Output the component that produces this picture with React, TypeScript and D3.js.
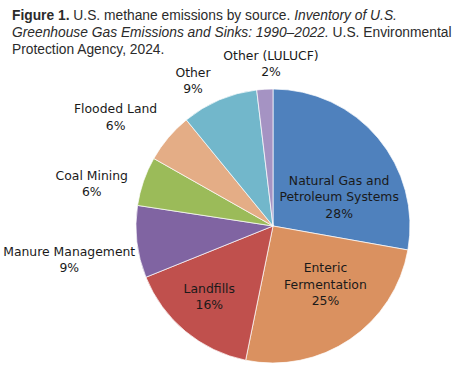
import React from 'react';
import * as d3 from 'd3';

// Methane emission shares by source (percent), clockwise from 12 o'clock
const sources = [
  'Natural Gas and Petroleum Systems',
  'Enteric Fermentation',
  'Landfills',
  'Manure Management',
  'Coal Mining',
  'Flooded Land',
  'Other',
  'Other (LULUCF)',
];
const shares = [27.8, 25.4, 15.7, 8.5, 5.8, 5.9, 9.0, 1.9];
const labelLines = [
  ['Natural Gas and', 'Petroleum Systems'],
  ['Enteric', 'Fermentation'],
  ['Landfills'],
  ['Manure Management'],
  ['Coal Mining'],
  ['Flooded Land'],
  ['Other'],
  ['Other (LULUCF)'],
];
const sliceColors = ['#4f81bd', '#da9160', '#c0504d', '#8064a2', '#9bbb59', '#e4ad86', '#72b7cb', '#a593c3'];

// label placement: radius as a fraction of the pie radius, turn (deg) from the slice mid angle
const labelRadius = [0.53, 0.57, 0.69, 1.507, 1.36, 1.4, 1.215, 1.19];
const labelTurn = [15.6, -8, 2.6, -2.6, -5.7, -5.3, -5.7, 2.7];

const W = 459;
const H = 372;
const cx = 273;
const cy = 226;
const R = 137;
const lineGap = 16.5;

export default function App() {
  const pie = d3
    .pie<number>()
    .sort(null)
    .value((d) => d);
  const arcs = pie(shares);
  const arc = d3.arc<d3.PieArcDatum<number>>().innerRadius(0).outerRadius(R);
  const color = d3.scaleOrdinal<string, string>().domain(sources).range(sliceColors);

  return (
    <svg
      width={W}
      height={H}
      style={{ position: 'absolute', left: 0, top: 0, background: '#fff' }}
    >
      <g fontFamily="'Liberation Sans', Arial, sans-serif" fontSize={13.8} fill="#2b2b2b">
        <text x={12} y={20}>
          <tspan fontWeight="bold">Figure 1.</tspan>
          <tspan> U.S. methane emissions by source. </tspan>
          <tspan fontStyle="italic">Inventory of U.S.</tspan>
        </text>
        <text x={12} y={37}>
          <tspan fontStyle="italic">Greenhouse Gas Emissions and Sinks: 1990–2022.</tspan>
          <tspan> U.S. Environmental</tspan>
        </text>
        <text x={12} y={54}>Protection Agency, 2024.</text>
      </g>

      <g transform={`translate(${cx},${cy})`}>
        {arcs.map((a, i) => (
          <path key={i} d={arc(a) || ''} fill={color(sources[i])} stroke="#fff" strokeWidth={0.7} />
        ))}
      </g>

      <g
        transform={`translate(${cx},${cy})`}
        fontFamily="'DejaVu Sans', Verdana, sans-serif"
        fontSize={12.4}
        fill="#1a1a1a"
        textAnchor="middle"
      >
        {arcs.map((a, i) => {
          const mid = (a.startAngle + a.endAngle) / 2 + (labelTurn[i] * Math.PI) / 180;
          const r = R * labelRadius[i];
          const x = Math.sin(mid) * r;
          const y = -Math.cos(mid) * r;
          const lines = [...labelLines[i], `${Math.round(shares[i])}%`];
          const top = y - ((lines.length - 1) * lineGap) / 2;
          return (
            <text key={i} dominantBaseline="central">
              {lines.map((t, j) => (
                <tspan key={j} x={x} y={top + j * lineGap}>
                  {t}
                </tspan>
              ))}
            </text>
          );
        })}
      </g>
    </svg>
  );
}
